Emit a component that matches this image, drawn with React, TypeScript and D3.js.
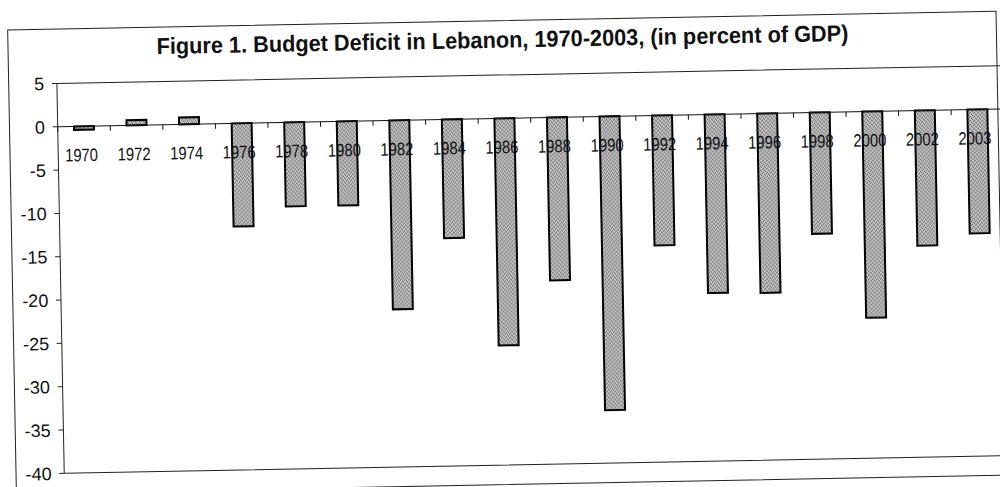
import React from "react";
import * as d3 from "d3";

const years = ["1970","1972","1974","1976","1978","1980","1982","1984","1986","1988","1990","1992","1994","1996","1998","2000","2002","2003"];
const deficit = [-0.4, 0.6, 0.8, -11.9, -9.7, -9.7, -21.8, -13.7, -26.2, -18.8, -33.9, -15.0, -20.6, -20.7, -14.0, -23.8, -15.6, -14.3];
const yTicks = [5, 0, -5, -10, -15, -20, -25, -30, -35, -40];
const title = "Figure 1. Budget Deficit in Lebanon, 1970-2003, (in percent of GDP)";

const W = 1000;
const H = 487;
const FONT = "'Liberation Sans', Arial, sans-serif";

export default function App() {
  const left = 57.7;
  const right = 1003.8;
  const y = d3.scaleLinear().domain([-40, 5]).range([473.4, 83.4]);
  const x = d3.scaleBand<string>().domain(years).range([left, right]).paddingInner(0.62).paddingOuter(0.31);
  const bw = x.bandwidth();
  const step = x.step();
  const boundaries = d3.range(years.length + 1).map((k) => left + k * step);
  const y0 = y(0);

  return (
    <svg width={W} height={H} style={{ position: "absolute", left: 0, top: 0, display: "block", background: "#fff" }}>
      <defs>
        <pattern id="stipple" width={4} height={4} patternUnits="userSpaceOnUse">
          <rect width={4} height={4} fill="#c4c4c4" />
          <rect x={0} y={0} width={1} height={1} fill="#555" />
          <rect x={2} y={1} width={1} height={1} fill="#555" />
          <rect x={1} y={2} width={1} height={1} fill="#555" />
          <rect x={3} y={3} width={1} height={1} fill="#555" />
        </pattern>
      </defs>
      <rect x={0} y={0} width={W} height={H} fill="#fff" />
      <g transform={`rotate(-1.08, ${left}, ${y0})`}>
        {/* outer frame */}
        <rect x={9.5} y={29} width={988.5} height={464} fill="none" stroke="#222" strokeWidth={1} />
        {/* title */}
        <text x={504} y={56} textAnchor="middle" fontFamily={FONT} fontWeight="bold" fontSize={23} textLength={692} lengthAdjust="spacingAndGlyphs" fill="#111">
          {title}
        </text>
        {/* plot area border */}
        <rect x={left} y={y(5)} width={right - left} height={y(-40) - y(5)} fill="none" stroke="#222" strokeWidth={1} />
        {/* y ticks and labels */}
        {yTicks.map((t) => (
          <g key={t}>
            <line x1={left - 5} x2={left} y1={y(t)} y2={y(t)} stroke="#222" strokeWidth={1} />
            <text x={45} y={y(t)} dy="0.36em" textAnchor="end" fontFamily={FONT} fontSize={18} fill="#111">
              {t}
            </text>
          </g>
        ))}
        {/* bars */}
        {years.map((yr, i) => {
          const v = deficit[i];
          const top = y(Math.max(0, v));
          const h = Math.abs(y(v) - y(0));
          return (
            <rect key={yr} x={(x(yr) as number)} y={top} width={bw} height={h} fill="url(#stipple)" stroke="#000" strokeWidth={2} />
          );
        })}
        {/* zero line and category ticks */}
        <line x1={left} x2={right} y1={y0} y2={y0} stroke="#111" strokeWidth={1} />
        {boundaries.map((b, k) => (
          <line key={k} x1={b} x2={b} y1={y0} y2={y0 + 5} stroke="#111" strokeWidth={1} />
        ))}
        {/* category labels */}
        {years.map((yr) => (
          <text key={yr} x={(x(yr) as number) + bw / 2 - 3} y={y0 + 35} textAnchor="middle" fontFamily={FONT} fontSize={18} textLength={33} lengthAdjust="spacingAndGlyphs" fill="#111">
            {yr}
          </text>
        ))}
      </g>
    </svg>
  );
}
